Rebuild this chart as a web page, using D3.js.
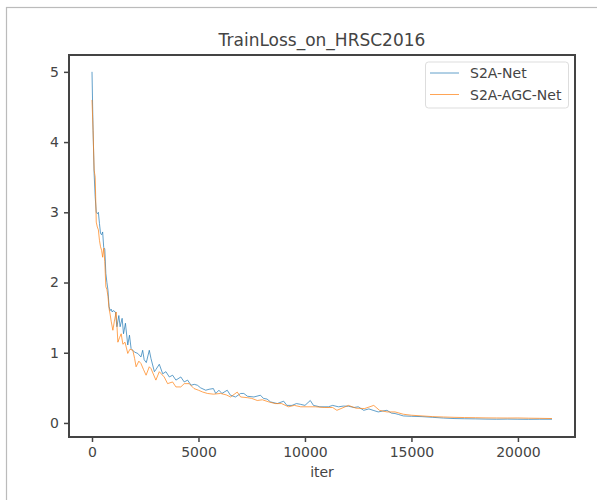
<!DOCTYPE html>
<html>
<head>
<meta charset="utf-8">
<script src="https://cdn.jsdelivr.net/npm/d3@7"></script>
<style>
  body { margin: 0; background: #fff; }
  text { font-family: "DejaVu Sans", sans-serif; fill: #444; }
</style>
</head>
<body>
<div id="chart"></div>
<script>
// values
const blueIters = [0,50,100,150,200,250,300,350,400,450,500,550,600,650,700,750,800,850,900,950,1000,
  1100,1170,1260,1320,1415,1480,1570,1680,1760,1835,1990,2150,2300,2380,2450,2550,2690,2770,2930,3000,
  3160,3320,3470,3630,3785,3940,4170,4330,4490,4650,4800,4950,5100,5340,5500,5700,5810,5960,6100,6350,
  6500,6740,6980,7130,7300,7600,7910,8050,8220,8380,8700,9000,9150,9390,9600,9780,10000,10250,10400,
  10700,11100,11300,11570,11800,12050,12300,12500,12760,13000,13200,13440,13650,13850,14060,14230,14400,
  14620,15000,15500,16000,16500,17000,17500,18000,18500,19000,19500,20000,20500,21000,21600];
const blueLoss = [5.0,4.17,3.55,3.22,3.0,2.98,3.0,2.84,2.70,2.68,2.72,2.50,2.48,2.13,2.0,1.89,1.66,1.60,1.62,1.58,1.60,
  1.58,1.37,1.53,1.37,1.49,1.27,1.42,1.11,1.25,1.06,1.01,0.99,0.94,1.035,0.90,0.86,1.035,0.917,0.73,0.76,
  0.836,0.70,0.73,0.655,0.68,0.61,0.655,0.584,0.61,0.537,0.55,0.537,0.50,0.466,0.48,0.49,0.42,0.466,0.42,0.466,
  0.395,0.37,0.42,0.42,0.38,0.37,0.395,0.35,0.34,0.30,0.276,0.31,0.25,0.25,0.276,0.266,0.25,0.32,0.25,
  0.23,0.23,0.25,0.23,0.24,0.238,0.22,0.23,0.18,0.20,0.18,0.157,0.17,0.18,0.14,0.134,0.12,
  0.10,0.095,0.09,0.08,0.07,0.063,0.06,0.058,0.055,0.053,0.055,0.053,0.052,0.053,0.053];

const orangeIters = [0,50,100,150,200,250,300,350,400,450,500,550,600,650,700,750,800,850,900,980,1050,
  1135,1215,1300,1370,1450,1550,1680,1780,1915,2000,2070,2200,2300,2420,2540,2690,2770,3000,3160,3390,
  3550,3785,3940,4170,4330,4560,4790,5000,5200,5420,5700,6040,6300,6510,6820,6980,7300,7500,7760,
  8000,8300,8600,8900,9230,9500,9800,10100,10500,10900,11300,11500,12040,12400,12800,13230,13500,13850,
  14230,14620,15000,15500,16000,16500,17000,17500,18000,18500,19000,19500,20000,20500,21000,21600];
const orangeLoss = [4.6,4.17,3.6,3.5,2.86,2.79,2.75,2.60,2.51,2.46,2.36,2.49,2.30,1.94,1.90,1.80,1.63,1.55,1.45,1.32,1.45,
  1.58,1.15,1.22,1.27,1.12,1.15,0.99,1.05,1.035,0.92,0.80,0.88,0.846,0.76,0.68,0.80,0.775,0.61,0.73,0.655,
  0.56,0.584,0.513,0.513,0.56,0.56,0.49,0.466,0.44,0.42,0.41,0.42,0.40,0.37,0.44,0.37,0.36,0.35,0.32,
  0.33,0.30,0.276,0.276,0.23,0.25,0.23,0.23,0.23,0.22,0.22,0.18,0.25,0.21,0.205,0.25,0.18,0.157,
  0.157,0.124,0.11,0.10,0.09,0.085,0.08,0.077,0.075,0.072,0.071,0.07,0.071,0.068,0.066,0.063];

const xTicks = [0, 5000, 10000, 15000, 20000];
const yTicks = [0, 1, 2, 3, 4, 5];
const seriesNames = ["S2A-Net", "S2A-AGC-Net"];
const seriesColors = ["#1f77b4", "#ff7f0e"];

const width = 597, height = 500;
const plotL = 69, plotR = 575, plotT = 55, plotB = 437;

const svg = d3.select("#chart").append("svg")
  .attr("width", width)
  .attr("height", height);

// figure edge (clipped in the picture)
svg.append("rect")
  .attr("x", 6.5).attr("y", 7.5)
  .attr("width", 700).attr("height", 600)
  .attr("fill", "none")
  .attr("stroke", "#bbb")
  .attr("stroke-width", 1.2);

const x = d3.scaleLinear().domain([-1080, 22680]).range([plotL, plotR]);
const y = d3.scaleLinear().domain([-0.2, 5.24]).range([plotB, plotT]);

const series = [
  d3.zip(blueIters, blueLoss),
  d3.zip(orangeIters, orangeLoss)
];

const line = d3.line()
  .x(d => x(d[0]))
  .y(d => y(d[1]));

svg.append("g")
  .selectAll("path")
  .data(series)
  .join("path")
  .attr("fill", "none")
  .attr("stroke", (d, i) => seriesColors[i])
  .attr("stroke-opacity", 0.7)
  .attr("stroke-width", 1)
  .attr("stroke-linejoin", "round")
  .attr("d", line);

// axes
const xAxis = svg.append("g")
  .attr("transform", `translate(0,${plotB})`)
  .call(d3.axisBottom(x).tickValues(xTicks).tickSize(5).tickPadding(5).tickFormat(d3.format("d")));
const yAxis = svg.append("g")
  .attr("transform", `translate(${plotL},0)`)
  .call(d3.axisLeft(y).tickValues(yTicks).tickSize(5).tickPadding(5).tickFormat(d3.format("d")));

[xAxis, yAxis].forEach(g => {
  g.select(".domain").remove();
  g.selectAll(".tick line").attr("stroke", "#444").attr("stroke-width", 1.5);
  g.selectAll(".tick text").attr("font-size", 14).attr("fill", "#444")
    .style("font-family", "'DejaVu Sans', sans-serif");
});

// frame
svg.append("rect")
  .attr("x", plotL).attr("y", plotT)
  .attr("width", plotR - plotL).attr("height", plotB - plotT)
  .attr("fill", "none")
  .attr("stroke", "#444")
  .attr("stroke-width", 2);

svg.append("text")
  .attr("x", (plotL + plotR) / 2)
  .attr("y", 46)
  .attr("text-anchor", "middle")
  .attr("font-size", 17)
  .text("TrainLoss_on_HRSC2016");

svg.append("text")
  .attr("x", (plotL + plotR) / 2)
  .attr("y", 477)
  .attr("text-anchor", "middle")
  .attr("font-size", 14)
  .text("iter");

// legend
const legend = svg.append("g");
legend.append("rect")
  .attr("x", 425.5).attr("y", 62)
  .attr("width", 143).attr("height", 46)
  .attr("rx", 3)
  .attr("fill", "#fff")
  .attr("fill-opacity", 0.8)
  .attr("stroke", "#ddd");

const item = legend.selectAll("g.item")
  .data(seriesNames)
  .join("g")
  .attr("class", "item")
  .attr("transform", (d, i) => `translate(0,${73 + i * 21.5})`);

item.append("line")
  .attr("x1", 430).attr("x2", 459)
  .attr("stroke", (d, i) => seriesColors[i])
  .attr("stroke-opacity", 0.7)
  .attr("stroke-width", 1);

item.append("text")
  .attr("x", 470)
  .attr("dy", "0.36em")
  .attr("font-size", 14)
  .text(d => d);
</script>
</body>
</html>
